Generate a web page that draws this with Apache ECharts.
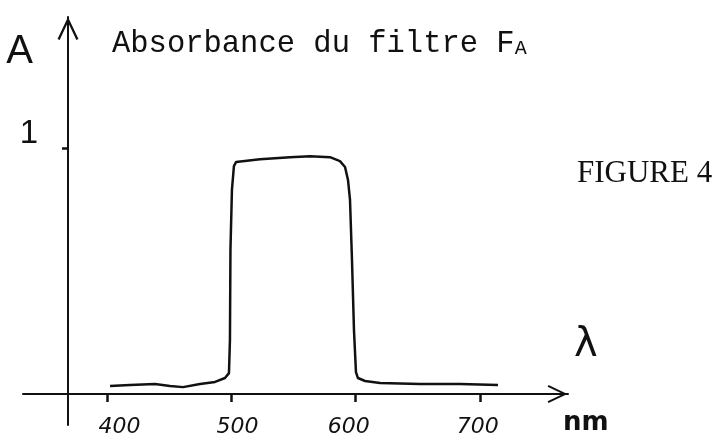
<!DOCTYPE html>
<html>
<head>
<meta charset="utf-8">
<script src="https://cdn.jsdelivr.net/npm/echarts@6.0.0/dist/echarts.min.js"></script>
<style>
  html, body { margin: 0; padding: 0; background: #fff; }
  #chart { width: 723px; height: 441px; }
</style>
</head>
<body>
<div id="chart"></div>
<script>
const wavelengths = [402.1, 418.2, 438.3, 450.4, 460.9, 474.6, 486.7, 494.7, 497.9, 498.7,
  499.1, 500.3, 501.9, 503.6, 522.9, 547.1, 563.2, 579.3, 587.3, 591.4,
  593.8, 595.4, 597.0, 598.6, 600.2, 601.8, 607.5, 619.6, 651.8, 684.0, 714.6]
const absorbance = [0.033, 0.037, 0.041, 0.033, 0.028, 0.041, 0.049, 0.065, 0.085, 0.22,
  0.585, 0.83, 0.927, 0.943, 0.955, 0.963, 0.967, 0.963, 0.947, 0.923,
  0.87, 0.79, 0.545, 0.26, 0.089, 0.065, 0.053, 0.045, 0.041, 0.041, 0.037]
const xTicks = [400, 500, 600, 700]
const yTicks = [1]

const ink = '#111'
const openArrow = 'path://M10,0 L20,21 L18,22 L10,5 L2,22 L0,21 Z'

// les chiffres écrits à la main ne sont pas tout à fait centrés sous les graduations
const handDigits = { fontFamily: 'DejaVu Sans', fontStyle: 'italic', fontSize: 22, color: ink }
const xLabelRich = {
  n400: { ...handDigits, padding: [0, 0, 0, 24] },
  n500: { ...handDigits, padding: [0, 0, 0, 12] },
  n600: { ...handDigits, padding: [0, 14, 0, 0] },
  n700: { ...handDigits, padding: [0, 4, 0, 0] }
}

const chart = echarts.init(document.getElementById('chart'))

chart.setOption({
  backgroundColor: '#fff',
  animation: false,
  title: [
    {
      text: '{a|Absorbance du filtre F}{s|A}',
      left: 112,
      top: 28,
      padding: 0,
      textStyle: {
        fontWeight: 'normal',
        rich: {
          a: { fontFamily: 'Liberation Mono', fontSize: 30.5, fontWeight: 'normal', color: ink },
          s: { fontFamily: 'Liberation Mono', fontSize: 20, fontWeight: 'normal', color: ink, verticalAlign: 'bottom' }
        }
      }
    },
    {
      text: 'FIGURE 4',
      left: 577,
      top: 158,
      padding: 0,
      textStyle: { fontFamily: 'Liberation Serif', fontSize: 31, fontWeight: 'normal', color: ink }
    }
  ],
  grid: {
    left: 23,
    right: 155,
    top: 17,
    bottom: 16,
    outerBoundsMode: 'none'
  },
  xAxis: {
    type: 'value',
    min: 332,
    max: 771,
    name: '{l|λ}\n{u|nm}',
    nameLocation: 'end',
    nameGap: -5,
    nameTextStyle: {
      rich: {
        l: { fontFamily: 'DejaVu Sans', fontSize: 40, lineHeight: 58, align: 'center', color: ink },
        u: { fontFamily: 'DejaVu Sans', fontSize: 26, fontWeight: 'bold', lineHeight: 96, align: 'center', color: ink }
      }
    },
    axisLine: {
      onZero: true,
      symbol: ['none', openArrow],
      symbolSize: [18, 21],
      symbolOffset: [0, -10.5],
      lineStyle: { color: ink, width: 2 }
    },
    axisTick: {
      customValues: xTicks,
      length: 8,
      lineStyle: { color: ink, width: 2.5 }
    },
    // l'axe est sur A = 0 mais les libellés restent calés sur le bas de la grille
    axisLabel: {
      customValues: xTicks,
      margin: -9,
      formatter: v => '{n' + v + '|' + v + '}',
      rich: xLabelRich
    },
    splitLine: { show: false }
  },
  yAxis: {
    type: 'value',
    min: -0.126,
    max: 1.533,
    offset: -45,
    name: 'A',
    nameLocation: 'end',
    nameGap: -55,
    nameTextStyle: {
      fontFamily: 'Liberation Sans',
      fontSize: 40,
      color: ink,
      align: 'right',
      verticalAlign: 'bottom',
      padding: [0, 35, 0, 0]
    },
    axisLine: {
      onZero: false,
      symbol: ['none', openArrow],
      symbolSize: [25, 23],
      symbolOffset: [0, -11.5],
      lineStyle: { color: ink, width: 2 }
    },
    axisTick: {
      customValues: yTicks,
      length: 6,
      lineStyle: { color: ink, width: 2.5 }
    },
    axisLabel: {
      customValues: yTicks,
      margin: 30,
      verticalAlign: 'bottom',
      fontFamily: 'Liberation Sans',
      fontSize: 33,
      lineHeight: 28,
      color: ink
    },
    splitLine: { show: false }
  },
  series: [
    {
      type: 'line',
      data: wavelengths.map((w, i) => [w, absorbance[i]]),
      showSymbol: false,
      lineStyle: { color: ink, width: 2.5 }
    }
  ]
})
</script>
</body>
</html>
